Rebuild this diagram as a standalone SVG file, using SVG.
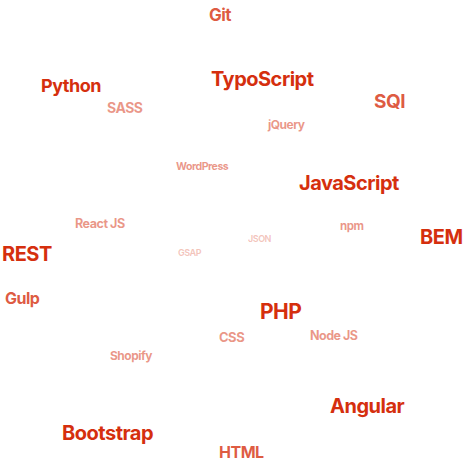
<svg xmlns="http://www.w3.org/2000/svg" width="465" height="463" viewBox="0 0 465 463">
<style>
text{font-family:Inter,"Liberation Sans",sans-serif;font-weight:700;fill:#D52F0E;letter-spacing:-0.5px}
.o2{fill-opacity:0.8}.o3{fill-opacity:0.5}.o4{fill-opacity:0.28}
</style>
<rect width="465" height="463" fill="#fff"/>
<g id="words">
<g id="git"><text x="209" y="21" font-size="17" class="o2">Git</text></g>
<g id="typoscript"><text x="211" y="86" font-size="20" letter-spacing="-0.7">TypoScript</text></g>
<g id="python"><text x="41" y="92" font-size="18">Python</text></g>
<g id="sass"><text x="107" y="113" font-size="14" class="o3">SASS</text></g>
<g id="sqi"><text x="374" y="108" font-size="19" class="o2">SQI</text></g>
<g id="jquery"><text x="268" y="129" font-size="12" class="o3">jQuery</text></g>
<g id="wordpress"><text x="176" y="170" font-size="10.6" class="o3">WordPress</text></g>
<g id="javascript"><text x="299" y="190" font-size="20">JavaScript</text></g>
<g id="reactjs"><text x="75" y="228" font-size="12.6" class="o3">React JS</text></g>
<g id="npm"><text x="340" y="230" font-size="11.5" class="o3">npm</text></g>
<g id="json"><text x="248" y="242" font-size="9" class="o4">JSON</text></g>
<g id="bem"><text x="420" y="244" font-size="20">BEM</text></g>
<g id="rest"><text x="2" y="261" font-size="20">REST</text></g>
<g id="gsap"><text x="178" y="256" font-size="9" class="o4">GSAP</text></g>
<g id="gulp"><text x="5" y="304" font-size="16" class="o2">Gulp</text></g>
<g id="php"><text x="260" y="319" font-size="21">PHP</text></g>
<g id="css"><text x="219" y="342" font-size="13" class="o3">CSS</text></g>
<g id="nodejs"><text x="310" y="340" font-size="12.5" class="o3">Node JS</text></g>
<g id="shopify"><text x="110" y="360" font-size="12" class="o3">Shopify</text></g>
<g id="angular"><text x="330" y="413" font-size="20">Angular</text></g>
<g id="bootstrap"><text x="62" y="440" font-size="20">Bootstrap</text></g>
<g id="html"><text x="219" y="458" font-size="16" class="o2">HTML</text></g>
</g>
</svg>
